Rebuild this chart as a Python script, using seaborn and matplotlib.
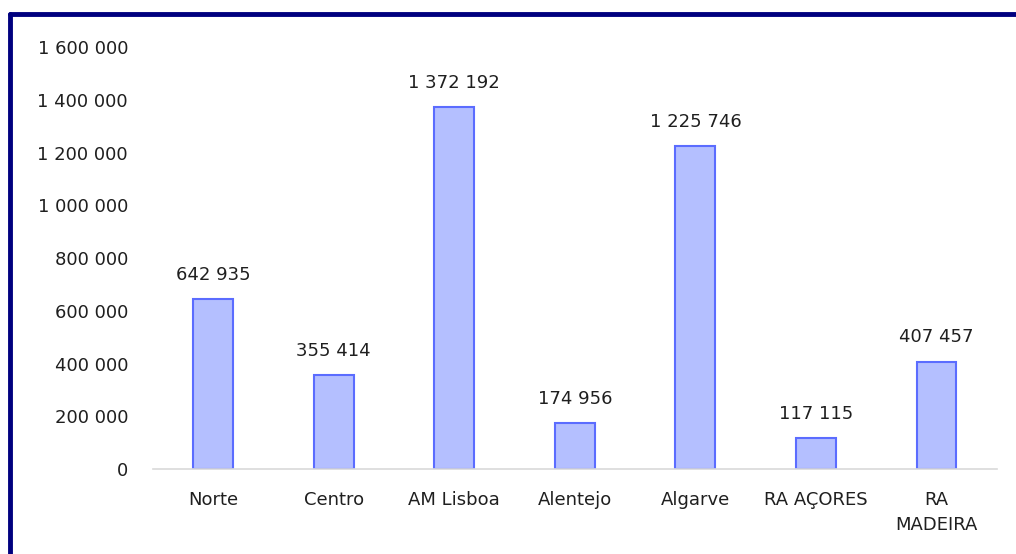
import matplotlib
matplotlib.use("Agg")
import matplotlib.pyplot as plt
import matplotlib.ticker as mticker
from matplotlib.lines import Line2D
import pandas as pd
import seaborn as sns

regions = ["Norte", "Centro", "AM Lisboa", "Alentejo", "Algarve", "RA AÇORES", "RA\nMADEIRA"]
values = [642935, 355414, 1372192, 174956, 1225746, 117115, 407457]
y_ticks = [0, 200000, 400000, 600000, 800000, 1000000, 1200000, 1400000, 1600000]

df = pd.DataFrame({"region": regions, "value": values})


def fmt(v):
    return f"{int(v):,}".replace(",", " ")


sns.set_style("white")
plt.rcParams["font.family"] = ["DejaVu Sans"]

fig = plt.figure(figsize=(10.16, 5.54), dpi=100)
ax = fig.add_axes([0.1506, 0.1534, 0.8304, 0.7616])

sns.barplot(data=df, x="region", y="value", ax=ax, width=0.33,
            color="#b4bfff", edgecolor="#5b6cff", linewidth=1.5, saturation=1)

ax.set_ylim(0, 1600000)
ax.set_yticks(y_ticks)
ax.yaxis.set_major_formatter(mticker.FuncFormatter(lambda v, p: fmt(v)))
ax.set_xlabel("")
ax.set_ylabel("")
ax.tick_params(axis="both", length=0, labelsize=13, colors="#1f1f1f")
ax.tick_params(axis="y", pad=18)
ax.tick_params(axis="x", pad=16)
for lbl in ax.get_xticklabels():
    lbl.set_linespacing(1.45)

for s in ["top", "right", "left"]:
    ax.spines[s].set_visible(False)
ax.spines["bottom"].set_color("#d9d9d9")
ax.spines["bottom"].set_linewidth(1.2)

for i, v in enumerate(values):
    ax.annotate(fmt(v), (i, v), xytext=(0, 11), textcoords="offset points",
                ha="center", va="bottom", fontsize=13, color="#1f1f1f")

# dark frame (left and top edges visible)
fig.add_artist(Line2D([0.0098, 0.0098], [0, 0.975], transform=fig.transFigure,
                      color="#00007f", linewidth=3.5))
fig.add_artist(Line2D([0.0098, 1.0], [0.975, 0.975], transform=fig.transFigure,
                      color="#00007f", linewidth=3.5))

fig.savefig("out.png", dpi=100)
